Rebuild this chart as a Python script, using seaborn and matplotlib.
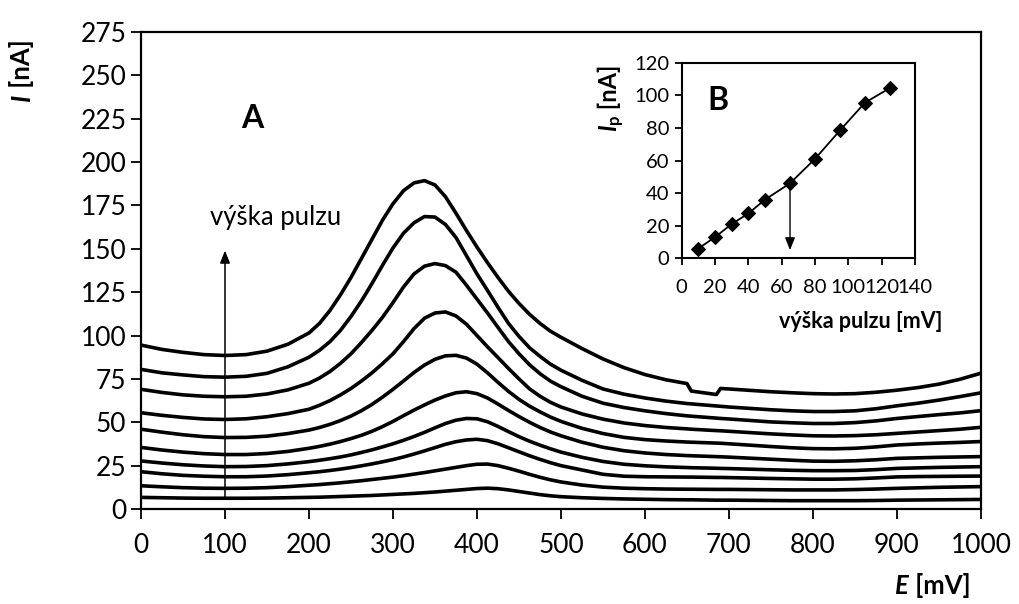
import matplotlib
matplotlib.use("Agg")
import matplotlib.pyplot as plt
import pandas as pd
import seaborn as sns

# Potential axis (mV) shared by all voltammograms
potential_mV = [0, 25, 50, 75, 100, 125, 150, 175, 200,
                212.5, 225, 237.5, 250, 262.5, 275, 287.5, 300, 312.5, 325, 337.5, 350,
                362.5, 375, 387.5, 400, 412.5, 425, 437.5, 450, 462.5, 475, 487.5, 500,
                525, 550, 575, 600, 625, 650,
                655, 685, 690, 700,
                750, 775, 800, 825, 850, 875, 900,
                925, 950, 975, 1000]

# Current (nA) for each pulse height (mV)
current_125 = [94.5, 92, 90.3, 89, 88.5, 89, 91, 95, 101.5,
               107, 114.5, 123.5, 133.5, 144.5, 155.5, 166.5, 176, 183.5, 188, 189.3, 186.8,
               180, 170.5, 160.5, 151, 142, 133.5, 125.5, 118.5, 112.3, 107, 102.5, 99,
               92.5, 86.5, 81.5, 77.5, 74.5, 72.3,
               68, 66, 69.5, 69.2,
               67.6, 67, 66.5, 66.3, 66.5, 67.3, 68.5,
               70, 72, 74.8, 78.3]
current_110 = [80.5, 78.5, 77.3, 76.3, 76, 76.5, 78.2, 82, 87.5,
               91.5, 96.5, 103, 111, 120, 130, 140.5, 150.5, 159, 165, 168.6, 168.3,
               164, 156.5, 146, 135.5, 126, 116.3, 107, 99.5, 93, 88, 83.5, 80,
               74.2, 69.2, 66.2, 64, 62.2, 60.8,
               60.6, 59.4, 59.2, 58.8,
               57.2, 56.6, 56.2, 56.2, 56.6, 57.8, 59.5,
               61, 62.8, 64.8, 67]
current_95 = [69, 67.2, 65.8, 65, 64.7, 65, 66.3, 68.7, 72.5,
              75.5, 79.3, 84, 89.5, 96, 103, 110.5, 119, 128, 135.5, 140, 141.5,
              140.3, 136.5, 129, 121, 113, 104.7, 96.5, 89.5, 83.2, 78, 73.7, 70.5,
              65, 61, 58.5, 56.6, 55, 53.7,
              53.5, 52.4, 52.2, 51.9,
              50.2, 49.7, 49.3, 49.3, 49.8, 50.8, 52.2,
              53.3, 54.4, 55.4, 56.7]
current_80 = [55.5, 54, 52.8, 51.9, 51.6, 52, 53.2, 55, 57.5,
              59.8, 62.5, 65.8, 69.5, 73.8, 78.5, 83.8, 89.5, 96.5, 104, 110, 113,
              113.6, 111.3, 106.5, 100, 93.5, 87.3, 81, 75, 69.3, 65, 61.5, 58.8,
              54.8, 51.8, 49.6, 48.1, 47, 46.2,
              46, 45.2, 45.1, 44.8,
              43.3, 42.7, 42.2, 42.1, 42.3, 42.8, 43.6,
              44.4, 45.2, 46, 47.1]
current_65 = [46, 44.3, 42.8, 41.7, 41.2, 41.3, 42, 43.5, 45.5,
              47, 48.8, 51, 53.6, 56.7, 60.3, 64.5, 69, 73.8, 78.7, 83, 86.3,
              88.3, 88.6, 87, 83.5, 78.5, 73, 67.8, 63.2, 59.3, 56, 53, 50.5,
              46.5, 43.5, 41.3, 40, 39.2, 38.6,
              38.5, 38, 37.9, 37.6,
              36, 35.3, 34.8, 34.7, 35, 35.8, 36.9,
              37.5, 38, 38.4, 38.9]
current_50 = [35.5, 34, 32.8, 31.9, 31.4, 31.4, 32, 33.2, 35,
              36.1, 37.4, 38.9, 40.6, 42.5, 44.8, 47.5, 50.5, 53.8, 57, 60, 62.8,
              65.2, 67, 67.6, 66.5, 64, 60.5, 56.8, 53.3, 50, 47, 44.4, 42.2,
              38.5, 35.6, 33.6, 32.3, 31.4, 30.8,
              30.7, 30.2, 30.1, 29.9,
              28.7, 28.1, 27.6, 27.5, 27.8, 28.4, 29.2,
              29.5, 29.8, 30, 30.2]
current_40 = [27.7, 26.5, 25.5, 24.8, 24.4, 24.5, 25, 26, 27.3,
              28.1, 29, 30, 31.2, 32.6, 34.1, 35.8, 37.6, 39.6, 41.8, 44.2, 46.8,
              49.3, 51.2, 52.2, 52, 50.3, 47.6, 44.6, 41.7, 39.1, 36.8, 34.7, 32.8,
              29.8, 27.4, 25.8, 24.9, 24.3, 23.9,
              23.8, 23.5, 23.4, 23.3,
              22.6, 22.3, 22.1, 22.1, 22.2, 22.7, 23.4,
              23.7, 24, 24.2, 24.4]
current_30 = [21.5, 20.3, 19.4, 18.9, 18.6, 18.6, 19, 19.8, 20.9,
              21.5, 22.2, 23, 23.9, 24.9, 26, 27.2, 28.5, 30, 31.7, 33.5, 35.4,
              37.3, 38.8, 39.8, 40.2, 39.4, 37.6, 35.3, 33, 30.7, 28.6, 26.7, 25,
              22.5, 20, 18.9, 18.6, 18.5, 18.4,
              18.4, 18.2, 18.2, 18.1,
              17.6, 17.4, 17.2, 17.2, 17.4, 17.9, 18.5,
              18.7, 18.8, 18.9, 19]
current_20 = [13.4, 12.8, 12.3, 12, 11.9, 12, 12.3, 12.9, 13.7,
              14.1, 14.6, 15.1, 15.7, 16.3, 17, 17.7, 18.4, 19.2, 20.1, 21, 22,
              23, 24, 25, 25.8, 25.9, 25, 23.5, 21.8, 20, 18.3, 16.8, 15.6,
              13.8, 12.6, 12, 11.7, 11.5, 11.4,
              11.4, 11.3, 11.3, 11.3,
              11.1, 11, 11, 11, 11.2, 11.5, 11.9,
              12.2, 12.5, 12.7, 12.9]
current_10 = [6.7, 6.5, 6.3, 6.2, 6.2, 6.2, 6.3, 6.5, 6.7,
              6.8, 7, 7.2, 7.4, 7.6, 7.8, 8.1, 8.4, 8.7, 9, 9.4, 9.8,
              10.3, 10.8, 11.3, 11.8, 12, 11.7, 11, 10.1, 9.2, 8.3, 7.6, 7.1,
              6.5, 6.1, 5.8, 5.6, 5.4, 5.3,
              5.3, 5.1, 5.1, 5.1,
              4.9, 4.8, 4.8, 4.8, 4.8, 4.9, 5.1,
              5.2, 5.3, 5.4, 5.5]

# Peak current vs. pulse height (inset)
pulse_height_mV = [10, 20, 30, 40, 50, 65, 80, 95, 110, 125]
peak_current_nA = [6, 13, 21, 27.5, 36, 46, 61, 78.5, 95.5, 104.5]

x_ticks = [0, 100, 200, 300, 400, 500, 600, 700, 800, 900, 1000]
y_ticks = [0, 25, 50, 75, 100, 125, 150, 175, 200, 225, 250, 275]
inset_x_ticks = [0, 20, 40, 60, 80, 100, 120, 140]
inset_y_ticks = [0, 20, 40, 60, 80, 100, 120]

sns.set_style("ticks")
FONT = ["Lato", "DejaVu Sans"]
plt.rcParams["font.family"] = FONT
plt.rcParams["text.color"] = "black"
plt.rcParams["xtick.color"] = "black"
plt.rcParams["ytick.color"] = "black"

series = {
    125: current_125, 110: current_110, 95: current_95, 80: current_80,
    65: current_65, 50: current_50, 40: current_40, 30: current_30,
    20: current_20, 10: current_10,
}
frames = [pd.DataFrame({"E": potential_mV, "I": vals, "pulse": p}) for p, vals in series.items()]
df = pd.concat(frames, ignore_index=True)

W, H = 1019, 604
fig = plt.figure(figsize=(W / 100, H / 100), dpi=100)
fig.patch.set_facecolor("white")

# ---------- main voltammograms ----------
ax = fig.add_axes([141 / W, 1 - 509 / H, (981 - 141) / W, (509 - 32) / H])
sns.lineplot(data=df, x="E", y="I", units="pulse", estimator=None, color="black",
             linewidth=2.6, legend=False, sort=False, ax=ax,
             solid_joinstyle="round", solid_capstyle="round")
ax.set_xlim(0, 1000)
ax.set_ylim(0, 275)
ax.set_xticks(x_ticks)
ax.set_yticks(y_ticks)
ax.set_xlabel("")
ax.set_ylabel("")
ax.tick_params(axis="both", direction="out", length=7, width=1.3, labelsize=19)
ax.tick_params(axis="x", pad=10)
ax.tick_params(axis="y", pad=3.5)
for s in ax.spines.values():
    s.set_linewidth(1.6)
    s.set_color("black")

ax.text(132, 225, "A", fontsize=23, fontweight="bold", ha="center", va="center")
ax.text(82, 168, "výška pulzu", fontsize=18.5, ha="left", va="center")
ax.annotate("", xy=(100, 149), xytext=(100, 7),
            arrowprops=dict(arrowstyle="-|>,head_length=0.75,head_width=0.3",
                            color="black", lw=1.1, shrinkA=0, shrinkB=0))

# y label: italic bold I followed by bold unit
tI = fig.text(22 / W, 1 - 101 / H, "I", fontsize=18.5, fontweight="bold", style="italic",
              rotation=90, ha="center", va="bottom")
ax.annotate(" [nA]", xy=(0.5, 1), xycoords=tI, fontsize=18.5, fontweight="bold",
            rotation=90, ha="center", va="bottom", annotation_clip=False)

# x label
tE = fig.text(895 / W, 1 - 598 / H, "E", fontsize=18.5, fontweight="bold", style="italic",
              ha="left", va="bottom")
ax.annotate(" [mV]", xy=(1, 0), xycoords=tE, fontsize=18.5, fontweight="bold",
            ha="left", va="bottom", annotation_clip=False)

# ---------- inset: peak current vs pulse height ----------
axin = fig.add_axes([681.7 / W, 1 - 258.3 / H, (915 - 681.7) / W, (258.3 - 62.7) / H])
axin.set_facecolor("white")
sns.lineplot(x=pulse_height_mV, y=peak_current_nA, color="black", linewidth=1.3,
             marker="D", markersize=7.5, markeredgecolor="black", ax=axin)
axin.set_xlim(0, 140)
axin.set_ylim(0, 120)
axin.set_xticks(inset_x_ticks)
axin.set_yticks(inset_y_ticks)
axin.tick_params(axis="both", direction="out", length=5, width=1.3, labelsize=14.5)
axin.tick_params(axis="x", pad=10)
axin.tick_params(axis="y", pad=4)
for s in axin.spines.values():
    s.set_linewidth(1.5)
    s.set_color("black")

axin.text(21.5, 97, "B", fontsize=23, fontweight="bold", ha="center", va="center")
axin.annotate("", xy=(65, 5), xytext=(65, 46),
              arrowprops=dict(arrowstyle="-|>,head_length=0.75,head_width=0.3",
                              color="black", lw=1.0, shrinkA=0, shrinkB=0))

fig.text(942 / W, 1 - 322 / H, "výška pulzu [mV]", fontsize=15.5, fontweight="bold",
         ha="right", va="center")

tIp = fig.text(609 / W, 1 - 131 / H, "I", fontsize=17, fontweight="bold", style="italic",
               rotation=90, ha="center", va="bottom")
tp = ax.annotate("p", xy=(0.5, 1), xycoords=tIp, xytext=(3.5, 0), textcoords="offset points",
                 fontsize=12, fontweight="bold", rotation=90, ha="center", va="bottom",
                 annotation_clip=False)
ax.annotate(" [nA]", xy=(0.5, 1), xycoords=tp, xytext=(-3.5, 0), textcoords="offset points",
            fontsize=17, fontweight="bold", rotation=90, ha="center", va="bottom",
            annotation_clip=False)

fig.savefig("out.png", dpi=100, facecolor="white")
